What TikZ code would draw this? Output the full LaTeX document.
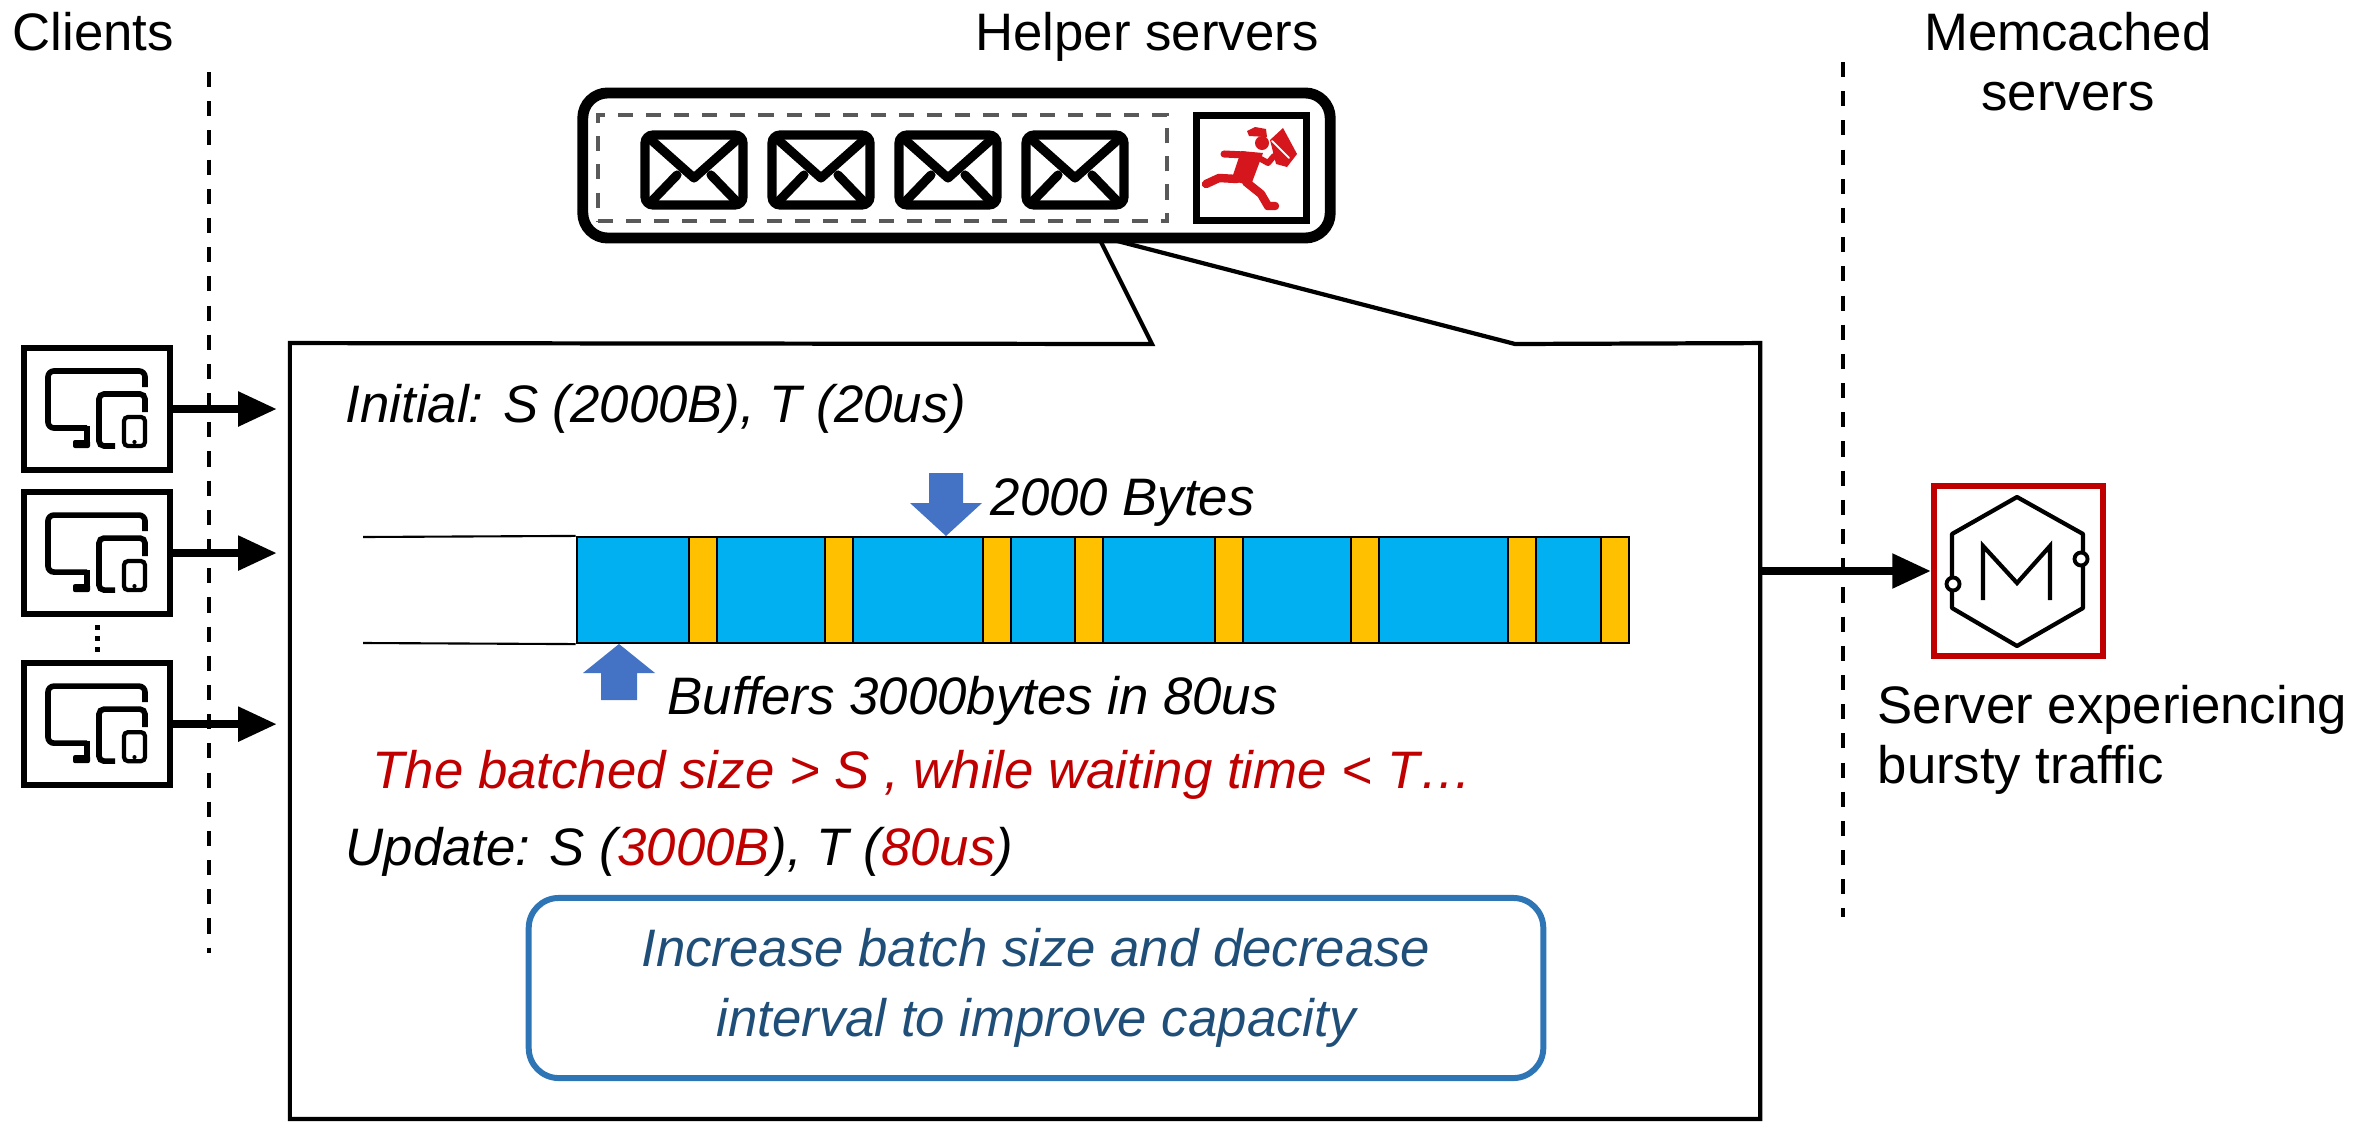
\documentclass[tikz,border=0pt]{standalone}
\usepackage{fontspec}
\setmainfont{Liberation Sans}
\usetikzlibrary{arrows,arrows.meta,positioning}

\definecolor{segblue}{HTML}{00B0F0}
\definecolor{seggold}{HTML}{FFC000}
\definecolor{pushblue}{HTML}{4472C4}
\definecolor{warnred}{HTML}{C00000}
\definecolor{hintblue}{HTML}{2E75B6}
\definecolor{hinttext}{HTML}{1F4E79}
\definecolor{postred}{RGB}{213,22,28}
\definecolor{queuegray}{HTML}{595959}

\begin{document}
\begin{tikzpicture}[x=0.01cm, y=-0.01cm, font=\fontsize{15}{17}\selectfont]
 \tikzset{client node/.style={rectangle, draw, line width=1.7pt,
 		minimum width=1.46cm, minimum height=1.22cm, inner sep=0pt}, }
 \tikzset{helper node/.style={rectangle, draw, fill=white, line width=3.1pt,
 		rounded corners=0.25cm, minimum width=7.47cm, minimum height=1.45cm}, }
 \tikzset{queue node/.style={rectangle, draw=queuegray, line width=1.1pt,
 		dash pattern=on 4.3pt off 3.7pt, minimum width=5.69cm, minimum height=1.06cm}, }
 \tikzset{post node/.style={rectangle, draw, line width=2pt,
 		minimum width=1.1cm, minimum height=1.05cm}, }
 \tikzset{server node/.style={rectangle, draw=warnred, line width=1.7pt,
 		minimum width=1.69cm, minimum height=1.7cm}, }
 \tikzset{hint node/.style={rectangle, draw=hintblue, line width=1.7pt,
 		rounded corners=0.3cm, text=hinttext, align=center,
 		font=\fontsize{15}{20}\selectfont\itshape,
 		minimum width=10.14cm, minimum height=1.8cm}, }
 \tikzset{label node/.style={inner sep=0pt}, }
 \tikzset{say node/.style={inner sep=0pt, anchor=base west,
 		font=\fontsize{15}{17}\selectfont\itshape}, }
 \tikzset{feed/.style={-{Triangle[length=11pt,width=9.4pt]}, line width=2.3pt},}
 \tikzset{cut line/.style={line width=1.1pt, dash pattern=on 4.3pt off 4pt},}
 \tikzset{envelope/.pic={
 	\draw[line width=2.6pt, rounded corners=0.08cm] (-49,-35) rectangle (49,35);
 	\draw[line width=2.6pt, line cap=round, line join=round] (-45,-32) -- (0,8) -- (45,-32);
 	\draw[line width=2.6pt, line cap=round] (-17,5) -- (-44,33) (17,5) -- (44,33);
 }}
 \tikzset{devices/.pic={
 	\draw[line width=1.6pt, rounded corners=0.06cm] (48,-22) -- (48,-38) -- (-49,-38) -- (-49,19) -- (-10,19);
 	\draw[line width=1.6pt] (-10,17) -- (-10,33);
 	\fill[rounded corners=0.02cm] (-24,31) rectangle (-7,39);
 	\draw[line width=1.6pt, rounded corners=0.05cm] (18,37) -- (2,37) -- (2,-15) -- (48,-15) -- (48,3);
 	\draw[line width=1.2pt, rounded corners=0.04cm, fill=white] (27,8) rectangle (48,37);
 	\fill (37.5,33) circle (0.6pt);
 }}
 \useasboundingbox (0,0) rectangle (2364,1121);

 %% column titles and separators
 \node[label node, anchor=base west] (clients) at (12,50) {Clients};
 \node[label node, anchor=base] (helpers) at (1147,50) {Helper servers};
 \node[label node, anchor=base, align=center] (memcached) at (2068,110) {Memcached\\servers};
 \draw[cut line] (209,72) -- (209,953);
 \draw[cut line] (1843,62) -- (1843,917);

 %% callout with the batching details
 \node[inner sep=0pt, minimum width=14.68cm, minimum height=7.74cm] (panel) at (1025,731) {};
 \draw[line width=1.2pt, line join=miter] (panel.north west) -- (1152,344) -- (1098,236)
 	-- (1515,344) -- (panel.north east) -- (panel.south east) -- (panel.south west) -- cycle;

 %% helper server: queued requests and the sender
 \node[helper node] (helper) at (956.5,165.5) {};
 \node[queue node] (queue) at (882.5,168) {};
 \node[post node] (post) [right =0.24cm of queue] {};
 \foreach \i in {0,...,3}
 	\pic at (694+127*\i,170) {envelope};
 \begin{scope}[postred, line cap=round, line join=round]
 	\fill (1247,131) -- (1255,127) -- (1266,129) -- (1267,137) -- (1249,136) -- cycle;
 	\fill (1262,143) circle (0.07cm);
 	\fill (1241,151) -- (1263,153) -- (1251,185) -- (1231,181) -- cycle;
 	\draw[line width=2pt] (1245,155) -- (1224,154);
 	\draw[line width=1.7pt] (1259,158) -- (1268,163) -- (1274,156);
 	\draw[line width=2.4pt] (1237,179) -- (1219,178) -- (1206,184);
 	\draw[line width=2.4pt] (1246,182) -- (1261,194) -- (1268,206) -- (1275,206);
 	\fill (1270,140) -- (1283,128) -- (1297,154) -- (1287,167) -- (1276,164) -- cycle;
 	\draw[white, line width=0.5pt] (1272,141) -- (1289,158);
 \end{scope}

 %% clients
 \node[client node] (c1) at (97,409) {};
 \node[client node] (c2) [below =0.16cm of c1] {};
 \node[client node] (c3) [below =0.43cm of c2] {};
 \foreach \c in {c1,c2,c3}
 	\pic at (\c) {devices};
 \foreach \y in {627,638,649}
 	\fill (94.5,\y-2.5) rectangle ++(5,5);
 \foreach \c in {c1,c2,c3}
 	\draw[feed, shorten >=0.13cm] (\c.east) -- (\c.east -| panel.west);

 %% memcached server under load
 \node[server node] (mc) at (2018.5,571) {};
 \draw[line width=1.2pt, line join=round] (2017,497) -- (2083,534) -- (2083,608) -- (2017,646)
 	-- (1952,608) -- (1952,534) -- cycle;
 \draw[line width=1.2pt] (1983,600) -- (1983,546) -- (2017,583) -- (2050,546) -- (2050,600);
 \draw[line width=1.1pt, fill=white] (1953,584) circle (0.065cm) (2081,559) circle (0.065cm);
 \draw[feed] (mc.west -| panel.east) -- (mc.west);
 \node[label node, anchor=base west, align=left] (burst) at (1877,783) {Server experiencing\\bursty traffic};

 %% batch stream
 \coordinate (wire top) at (363,537);
 \coordinate (wire bottom) at (363,643);
 \node[rectangle, draw, fill=segblue, line width=0.6pt, inner sep=0pt,
 	minimum width=10.52cm, minimum height=1.06cm] (bar) at (1103,590) {};
 \foreach \x in {689,825,983,1075,1215,1351,1508,1601}
 	\draw[line width=0.6pt, fill=seggold] (\x,537) rectangle (\x+28,643);
 \draw[line width=0.6pt] (wire top) -- (bar.north west);
 \draw[line width=0.6pt] (wire bottom) -- (bar.south west);
 \fill[pushblue] (929,473) -- (963,473) -- (963,503) -- (982,503) -- (946,536) -- (910,503) -- (929,503) -- cycle;
 \fill[pushblue] (601,700) -- (637,700) -- (637,673) -- (655,673) -- (619,644) -- (583,673) -- (601,673) -- cycle;

 %% texts in the callout
 \node[say node] (initial) at (345,422) {Initial: S (2000B), T (20us)};
 \node[say node] (twok) at (990,515) {2000 Bytes};
 \node[say node] (buffers) at (667,714) {Buffers 3000bytes in 80us};
 \node[say node, text=warnred] (cond) at (372,788) {The batched size > S , while waiting time < T…};
 \node[say node] (update) at (345,865) {Update: S (\textcolor{warnred}{3000B}), T (\textcolor{warnred}{80us})};
 \node[hint node] (hint) at (1036,988) {Increase batch size and decrease\\interval to improve capacity};
\end{tikzpicture}
\end{document}
